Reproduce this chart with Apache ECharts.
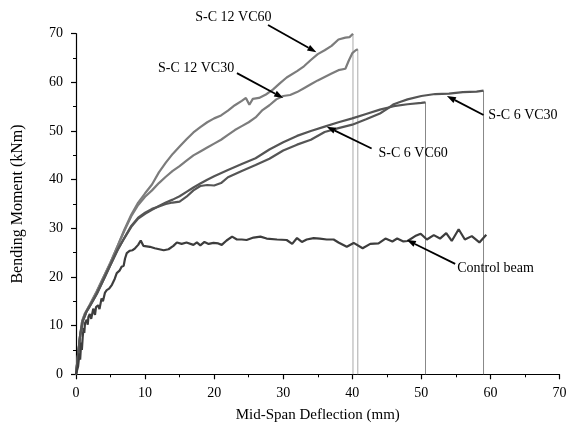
<!DOCTYPE html>
<html><head><meta charset="utf-8">
<script src="https://cdn.jsdelivr.net/npm/echarts@6/dist/echarts.min.js"></script>
<style>html,body{margin:0;padding:0;background:#fff}#c{width:566px;height:423px}</style>
</head><body><div id="c"></div>
<script>
// ---- data (mid-span deflection mm, bending moment kNm) ----
const sc12vc60 = [[0,0],[0.3,4],[0.6,8],[0.9,11],[1.3,12.5],[2,14.3],[3,17],[4,20],[5,23],[6,26.3],[7,29.7],[8,32.8],[9,35.3],[10,37.2],[11,39],[12,41.5],[13,43.5],[14,45.3],[15,46.8],[16,48.3],[17,49.7],[18,50.8],[19,51.8],[20,52.6],[21,53.2],[22,54.2],[23,55.3],[24,56.2],[24.6,56.8],[25.1,55.4],[25.6,56.6],[26.5,56.8],[27.5,57.5],[28.5,58.5],[29.5,59.8],[30.5,61],[32,62.3],[33,63.3],[34,64.6],[35,65.8],[36,66.6],[37,67.5],[38,68.8],[39,69.2],[39.6,69.3],[40.1,70]];
const sc12vc30 = [[0,0],[0.3,4],[0.6,8],[0.9,11],[1.3,12.5],[2,14.3],[3,17],[4,20],[5,23],[6,26.3],[7,29.5],[8,32.5],[9,34.8],[10,36.5],[11,37.8],[12,39.3],[13,40.6],[14,41.8],[15,42.8],[16,43.9],[17,45],[18,45.8],[19,46.6],[20,47.4],[21,48.2],[22,49.2],[23,50.2],[24,51],[25,51.8],[26,52.8],[27,54.3],[28,55.3],[29,56.5],[30,57.2],[31,57.4],[32,58],[33,58.8],[34,59.6],[35,60.4],[36,61.1],[37,61.8],[38,62.5],[39,62.8],[39.5,64.5],[40,66],[40.5,66.6],[40.8,66.8]];
const sc6vc60 = [[0,0],[0.3,4],[0.6,8],[1,11],[1.5,12.8],[2,14],[3,16.5],[4,19.5],[5,22.5],[6,25.5],[7,28],[8,30.3],[9,32],[10,33],[11,33.8],[12,34.6],[13,35.3],[14,35.9],[15,36.6],[16,37.5],[17,38.4],[18,39.2],[19,40],[20,40.7],[22,42],[24,43.2],[26,44.4],[28,46.2],[30,47.7],[32,49],[34,50],[36,50.9],[38,51.8],[40,52.6],[42,53.5],[44,54.4],[46,55.1],[48,55.5],[50,55.8],[50.6,55.9]];
const sc6vc30 = [[0,0],[0.3,4],[0.6,8],[1,11],[1.5,12.8],[2,14],[3,16.5],[4,19.5],[5,22.5],[6,25.5],[7,28],[8,30.5],[9,32.2],[10,33.2],[11,34],[12,34.5],[13,35],[14,35.3],[15,35.5],[16,36.5],[17,37.8],[18,38.7],[19,38.9],[20,38.8],[21,39.3],[22,40.5],[24,41.8],[26,43],[28,44.3],[30,46],[32,47.2],[34,48.2],[36,49.8],[38,50.6],[40,51.3],[42,52.4],[44,53.6],[45,54.5],[46,55.5],[47,56],[48,56.5],[50,57.2],[52,57.6],[54,57.7],[56,58],[58,58.1],[59,58.3]];
const control = [[0,0],[0.3,1.6],[0.5,4.3],[0.6,3],[0.75,6.5],[0.85,5],[0.97,7.7],[1.1,9.5],[1.2,8.5],[1.3,10.5],[1.55,11.2],[1.7,10.2],[1.8,11.8],[2.0,12.4],[2.2,11.4],[2.5,13.5],[2.75,12.2],[2.9,13.8],[3.2,14.2],[3.4,13.4],[3.7,15.6],[3.9,15],[4.2,16.8],[4.45,17.3],[4.8,17.6],[5.2,18.4],[5.6,19.6],[5.9,20.8],[6.3,21.3],[6.6,22.1],[6.9,22.3],[7.1,23.8],[7.35,24.9],[7.8,25.4],[8.2,25.5],[8.55,25.9],[9.0,26.6],[9.37,27.5],[9.75,26.4],[10,26.4],[10.7,26.2],[11.4,25.9],[12.7,25.5],[13.4,25.7],[14.1,26.4],[14.6,27.1],[15.3,26.8],[16,27.1],[17,26.6],[17.5,27.1],[18,26.5],[18.6,27.2],[19.2,26.8],[19.9,27.0],[20.6,26.9],[21.1,26.6],[21.8,27.5],[22.6,28.3],[23.3,27.7],[24.0,27.7],[24.7,27.6],[25.7,28.1],[26.7,28.3],[27.6,27.9],[29.1,27.7],[30.5,27.6],[31.3,26.8],[32.0,28.0],[32.7,27.2],[33.4,27.7],[34.4,28.0],[35.3,27.9],[36.3,27.7],[37.3,27.7],[38.0,27.1],[39.2,26.2],[40.2,27.0],[41.5,25.9],[42.6,26.8],[43.8,26.9],[44.8,27.9],[45.8,27.3],[46.5,27.9],[47.4,27.3],[48.0,27.4],[49.1,28.4],[49.9,28.9],[50.8,27.7],[51.8,28.6],[52.7,27.9],[53.6,29.0],[54.4,27.4],[55.4,29.8],[56.3,27.7],[57.3,28.4],[58.4,27.1],[59.4,28.7]];

const seriesNames = ['S-C 12 VC60','S-C 12 VC30','S-C 6 VC60','S-C 6 VC30','Control beam'];
const seriesData = [sc12vc60, sc12vc30, sc6vc60, sc6vc30, control];
const seriesColors = ['#7c7c7c','#7c7c7c','#555555','#555555','#3d3d3d'];
const dropColors = ['#aaaaaa','#aaaaaa','#888888','#888888'];

// annotations (data coordinates)
const annoText = ['S-C 12 VC60','S-C 12 VC30','S-C 6 VC60','S-C 6 VC30','Control beam'];
const annoTextPos = [[28.3,73.4],[22.9,62.9],[43.8,45.5],[59.7,53.3],[55.2,21.8]];
const annoAlign = ['right','right','left','left','left'];
const arrowFrom = [[27.8,71.8],[23.3,61.9],[42.8,46.4],[59.0,53.3],[54.9,22.7]];
const arrowTo = [[34.8,66.2],[30.0,56.8],[36.3,50.9],[53.7,57.2],[47.9,27.6]];

const FONT = '"Liberation Serif","Times New Roman",serif';
const chart = echarts.init(document.getElementById('c'), null, {renderer:'canvas'});

const series = [];
// drop lines from curve ends
for (let i = 0; i < 4; i++) {
  const last = seriesData[i][seriesData[i].length - 1];
  series.push({type:'line', data:[[last[0], last[1]], [last[0], 0]], symbol:'none', silent:true,
    lineStyle:{color:dropColors[i], width:1}, z:1});
}
seriesData.forEach((d, i) => {
  series.push({name:seriesNames[i], type:'line', data:d, symbol:'none', smooth:false,
    lineStyle:{color:seriesColors[i], width:2.2}, z:2});
});

const axisCommon = {
  min:0, max:70, interval:10,
  axisLine:{show:true, onZero:false, lineStyle:{color:'#000', width:1.2}},
  axisTick:{show:true, inside:false, length:5, lineStyle:{color:'#000', width:1.2}},
  minorTick:{show:true, splitNumber:2, length:3, lineStyle:{color:'#000', width:1}},
  splitLine:{show:false},
  axisLabel:{color:'#000', fontFamily:FONT, fontSize:14},
  nameTextStyle:{color:'#000', fontFamily:FONT, fontSize:15}
};

chart.setOption({
  animation:false,
  backgroundColor:'#fff',
  grid:{left:76, right:6.5, top:33.7, bottom:48.7, containLabel:false, outerBoundsMode:'none'},
  xAxis:Object.assign({}, axisCommon, {type:'value', name:'Mid-Span Deflection (mm)', nameLocation:'middle', nameGap:33,
    axisLabel:Object.assign({}, axisCommon.axisLabel, {margin:12})}),
  yAxis:Object.assign({}, axisCommon, {type:'value', name:'Bending Moment (kNm)', nameLocation:'middle', nameGap:50,
    nameTextStyle:Object.assign({}, axisCommon.nameTextStyle, {fontSize:16}),
    axisLabel:Object.assign({}, axisCommon.axisLabel, {margin:13})}),
  series:series
});

// annotation graphics
const graphics = [];
for (let i = 0; i < annoText.length; i++) {
  const tp = chart.convertToPixel({gridIndex:0}, annoTextPos[i]);
  const a = chart.convertToPixel({gridIndex:0}, arrowFrom[i]);
  const b = chart.convertToPixel({gridIndex:0}, arrowTo[i]);
  graphics.push({type:'text', x:tp[0], y:tp[1], style:{text:annoText[i], font:'14px ' + FONT, fill:'#000', align:annoAlign[i], verticalAlign:'middle'}, z:10});
  const dx = b[0]-a[0], dy = b[1]-a[1];
  const len = Math.sqrt(dx*dx+dy*dy), ux = dx/len, uy = dy/len;
  const hl = 9, hw = 3.2;
  const bx = b[0]-ux*hl, by = b[1]-uy*hl;
  graphics.push({type:'line', shape:{x1:a[0], y1:a[1], x2:bx, y2:by}, style:{stroke:'#000', lineWidth:1.8}, z:10});
  graphics.push({type:'polygon', shape:{points:[[b[0],b[1]],[bx-uy*hw, by+ux*hw],[bx+uy*hw, by-ux*hw]]}, style:{fill:'#000'}, z:10});
}
chart.setOption({graphic:graphics});
</script>
</body></html>
